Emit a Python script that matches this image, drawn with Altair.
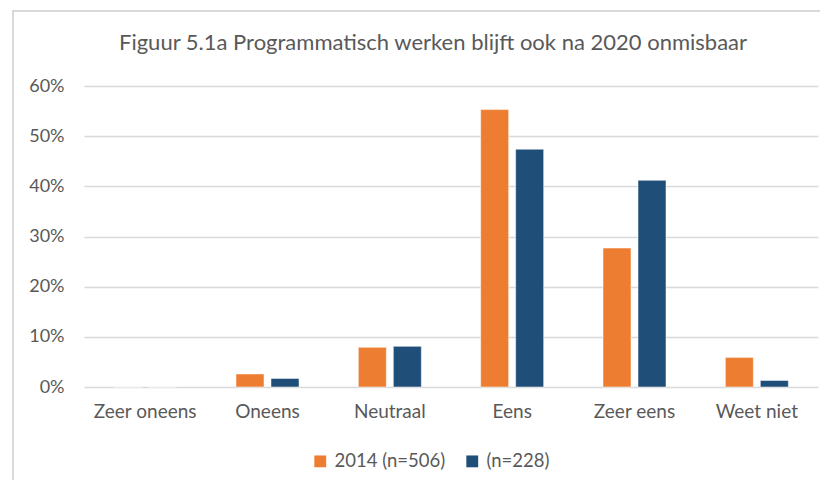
import altair as alt
import pandas as pd

categories = ["Zeer oneens", "Oneens", "Neutraal", "Eens", "Zeer eens", "Weet niet"]
series = ["2014 (n=506)", "\u00a0(n=228)"]
values_2014 = [0.0, 2.6, 7.9, 55.3, 27.7, 5.9]
values_228 = [0.0, 1.7, 8.1, 47.4, 41.2, 1.3]
colors = ["#ED7D31", "#1F4E79"]
title_text = "Figuur 5.1a Programmatisch werken blijft ook na 2020 onmisbaar"

rows = []
for c, a, b in zip(categories, values_2014, values_228):
    rows.append({"cat": c, "serie": series[0], "val": a / 100})
    rows.append({"cat": c, "serie": series[1], "val": b / 100})
df = pd.DataFrame(rows)

FONT = "Lato"
GREY = "#595959"

bars = alt.Chart(df).mark_bar(stroke="white", strokeWidth=0.5).encode(
    x=alt.X("cat:N", sort=categories, title=None,
            scale=alt.Scale(paddingInner=0.485, paddingOuter=0.2425),
            axis=alt.Axis(labelAngle=0, labelFont=FONT, labelFontSize=19, labelColor=GREY,
                          domain=False, ticks=False, labelPadding=15)),
    xOffset=alt.XOffset("serie:N", sort=series, scale=alt.Scale(paddingInner=0.2, paddingOuter=0)),
    y=alt.Y("val:Q", title=None,
            scale=alt.Scale(domain=[0, 0.6], nice=False),
            axis=alt.Axis(format=".0%", values=[0, 0.1, 0.2, 0.3, 0.4, 0.5, 0.6],
                          labelFont=FONT, labelFontSize=18, labelColor=GREY,
                          domain=False, ticks=False, labelPadding=20,
                          gridColor="#D9D9D9", gridWidth=1.3)),
    color=alt.Color("serie:N", sort=series, title=None,
                    scale=alt.Scale(domain=series, range=colors),
                    legend=alt.Legend(orient="none", direction="horizontal", legendX=227, legendY=366,
                                      symbolType="square", symbolSize=140, symbolStrokeWidth=0,
                                      labelFont=FONT, labelFontSize=18.5, labelColor=GREY,
                                      columnPadding=17, labelOffset=5)),
)

frame = alt.Chart(df).mark_rect(fill=None, stroke="#D9D9D9", strokeWidth=1.5).encode(
    x=alt.value(-71), x2=alt.value(760), y=alt.value(-75), y2=alt.value(420)
)

title = alt.Chart(pd.DataFrame({"t": [title_text]})).mark_text(
    font=FONT, fontSize=22, color=GREY, align="center", baseline="alphabetic"
).encode(text="t:N", x=alt.value(349), y=alt.value(-36))

chart = alt.layer(frame, bars, title).properties(
    width=734, height=301,
    autosize=alt.AutoSizeParams(type="none"),
    padding={"left": 76, "top": 78, "right": 2, "bottom": 93},
).configure_view(stroke=None)

chart.save("out.html", embed_options={"renderer": "svg", "actions": False})
